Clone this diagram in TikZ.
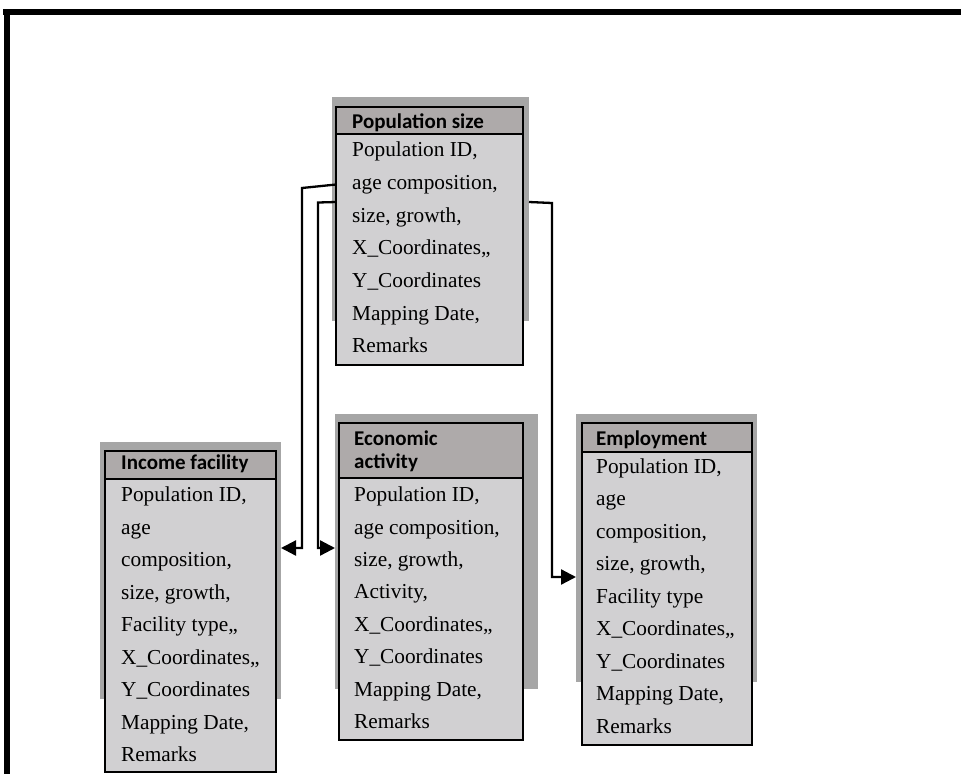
\documentclass[tikz,border=0pt]{standalone}
\usepackage{fontspec}
\setmainfont{Liberation Serif}
\newfontfamily\headfont{Carlito}
\usetikzlibrary{arrows.meta,calc}
\definecolor{shadowgray}{RGB}{166,166,166}
\definecolor{bodygray}{RGB}{209,208,210}
\definecolor{headgray}{RGB}{174,170,170}
\begin{document}
\begin{tikzpicture}[x=1pt,y=-1pt,
  shadowbox/.style={fill=shadowgray,draw=none,inner sep=0pt,outer sep=0pt,anchor=north west},
  tablebox/.style={fill=bodygray,draw=black,line width=2.2pt,inner sep=0pt,outer sep=0pt,anchor=north west},
  headbox/.style={fill=headgray,draw=black,line width=2.2pt,inner sep=0pt,outer sep=0pt,anchor=north west},
  headtxt/.style={anchor=base west,inner sep=0pt,font=\headfont\bfseries\fontsize{21}{23}\selectfont},
  bodytxt/.style={anchor=base west,inner sep=0pt,font=\fontsize{21.3}{25}\selectfont},
  conn/.style={line width=2.3pt},
  arr/.style={-{Triangle[length=15pt,width=15pt]}}]
\useasboundingbox (0,0) rectangle (961,774);
% frame
\fill[black] (3,9) rectangle (961,15);
\fill[black] (4,9) rectangle (10,774);

% Population size
\node[shadowbox,minimum width=197pt,minimum height=224pt] (pops) at (332,97) {};
\node[tablebox,minimum width=187pt,minimum height=258pt] (pop) at (336,107) {};
\node[headbox,minimum width=187pt,minimum height=27pt] (poph) at (336,107) {};
\node[headtxt] (popt) at (352,128) {Population size};
\foreach \t [count=\i] in {{Population ID,},{age composition,},{size, growth,},{X\_Coordinates,,},{Y\_Coordinates},{Mapping Date,},{Remarks}}
  \node[bodytxt] (pop\i) at (352,{156.7+(\i-1)*32.7}) {\t};

% Income facility
\node[shadowbox,minimum width=181pt,minimum height=257pt] (incs) at (100,442) {};
\node[tablebox,minimum width=171pt,minimum height=321pt] (inc) at (105,451) {};
\node[headbox,minimum width=171pt,minimum height=28pt] (inch) at (105,451) {};
\node[headtxt] (inct) at (121,469) {Income facility};
\foreach \t [count=\i] in {{Population ID,},{age},{composition,},{size, growth,},{Facility type,,},{X\_Coordinates,,},{Y\_Coordinates},{Mapping Date,},{Remarks}}
  \node[bodytxt] (inc\i) at (121,{501.7+(\i-1)*32.5}) {\t};

% Economic activity
\node[shadowbox,minimum width=203pt,minimum height=275pt] (ecos) at (335,414) {};
\node[tablebox,minimum width=184pt,minimum height=317pt] (eco) at (339,423) {};
\node[headbox,minimum width=184pt,minimum height=55pt] (ecoh) at (339,423) {};
\node[headtxt] (ecot1) at (354,445) {Economic};
\node[headtxt] (ecot2) at (354,468) {activity};
\foreach \t [count=\i] in {{Population ID,},{age composition,},{size, growth,},{Activity,},{X\_Coordinates,,},{Y\_Coordinates},{Mapping Date,},{Remarks}}
  \node[bodytxt] (eco\i) at (354,{501.7+(\i-1)*32.4}) {\t};

% Employment
\node[shadowbox,minimum width=181pt,minimum height=268pt] (emps) at (576,414) {};
\node[tablebox,minimum width=170pt,minimum height=322pt] (emp) at (582,423) {};
\node[headbox,minimum width=170pt,minimum height=29pt] (emph) at (582,423) {};
\node[headtxt] (empt) at (596,445) {Employment};
\foreach \t [count=\i] in {{Population ID,},{age},{composition,},{size, growth,},{Facility type},{X\_Coordinates,,},{Y\_Coordinates},{Mapping Date,},{Remarks}}
  \node[bodytxt] (emp\i) at (596,{473.3+(\i-1)*32.5}) {\t};

% connectors
\draw[conn,arr] ($(pop.north west)+(0,77.5)$) -- ($(pop.north west)+(-34,81)$)
   |- ($(incs.north east)+(0,106)$);
\draw[conn,arr] ($(pop.north west)+(0,95)$) -- ($(pop.north west)+(-18,95.5)$)
   |- ($(ecos.north west)+(0,134)$);
\draw[conn,arr] ($(pops.north east)+(0,105)$) -- ($(pops.north east)+(23,106)$)
   |- ($(emps.north west)+(0,163)$);
\end{tikzpicture}
\end{document}
